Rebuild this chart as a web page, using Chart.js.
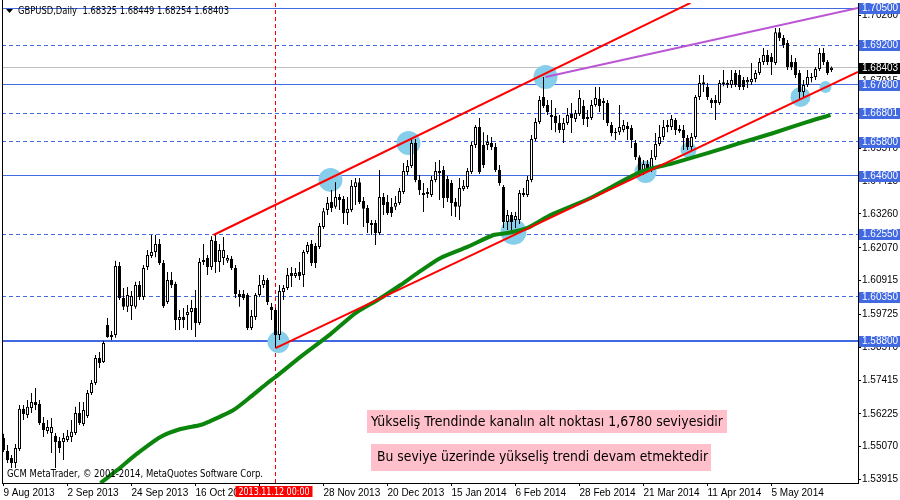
<!DOCTYPE html>
<html>
<head>
<meta charset="utf-8">
<style>
html, body { margin: 0; padding: 0; background: #fff; overflow: hidden; }
#chart { display: block; }
</style>
<script src="https://cdn.jsdelivr.net/npm/chart.js@4.4.1/dist/chart.umd.min.js"></script>
</head>
<body>
<canvas id="chart" width="900" height="500"></canvas>
<script>
// GBPUSD daily candles, 9 Aug 2013 .. mid May 2014
const opens = [
  1.5537,1.5492,1.5467,1.5449,1.5499,1.5640,1.5618,1.5643,1.5664,1.5657,
  1.5590,1.5562,1.5555,1.5545,1.5527,1.5523,1.5530,1.5541,1.5555,1.5625,
  1.5587,1.5615,1.5696,1.5731,1.5819,1.5805,1.5935,1.5900,1.5900,1.6143,
  1.6030,1.5999,1.6002,1.5999,1.6076,1.6034,1.6139,1.6178,1.6192,1.6220,
  1.6153,1.6016,1.6094,1.6080,1.5953,1.5963,1.5970,1.5981,1.5995,1.5942,
  1.6157,1.6171,1.6139,1.6231,1.6157,1.6171,1.6161,1.6168,1.6136,1.6044,
  1.6044,1.6041,1.5925,1.5963,1.6041,1.6076,1.6094,1.5999,1.5988,1.5900,
  1.6051,1.6065,1.6118,1.6108,1.6122,1.6111,1.6192,1.6220,1.6213,1.6210,
  1.6280,1.6340,1.6368,1.6351,1.6386,1.6379,1.6329,1.6340,1.6421,1.6438,
  1.6372,1.6347,1.6294,1.6294,1.6259,1.6386,1.6368,1.6351,1.6351,1.6365,
  1.6403,1.6474,1.6495,1.6576,1.6446,1.6393,1.6396,1.6393,1.6446,1.6470,
  1.6481,1.6449,1.6435,1.6368,1.6351,1.6414,1.6421,1.6474,1.6569,1.6632,
  1.6569,1.6569,1.6576,1.6562,1.6481,1.6421,1.6298,1.6322,1.6305,1.6305,
  1.6393,1.6393,1.6446,1.6590,1.6650,1.6738,1.6710,1.6667,1.6671,1.6646,
  1.6622,1.6646,1.6678,1.6660,1.6678,1.6706,1.6660,1.6664,1.6710,1.6731,
  1.6724,1.6717,1.6639,1.6611,1.6614,1.6622,1.6636,1.6629,1.6576,1.6526,
  1.6474,1.6502,1.6481,1.6526,1.6572,1.6597,1.6639,1.6632,1.6657,1.6625,
  1.6622,1.6593,1.6562,1.6597,1.6738,1.6783,1.6773,1.6727,1.6727,1.6717,
  1.6783,1.6780,1.6780,1.6822,1.6815,1.6798,1.6790,1.6790,1.6801,1.6822,
  1.6861,1.6886,1.6879,1.6857,1.6966,1.6945,1.6928,1.6861,1.6861,1.6822,
  1.6755,1.6780,1.6808,1.6808,1.6836,1.6893,1.6861,1.68325
];
const highs = [
  1.5552,1.5513,1.5478,1.5516,1.5654,1.5654,1.5671,1.5696,1.5713,1.5671,
  1.5611,1.5601,1.5608,1.5555,1.5541,1.5555,1.5566,1.5601,1.5647,1.5664,
  1.5664,1.5706,1.5742,1.5830,1.5840,1.5879,1.5960,1.5914,1.6161,1.6157,
  1.6065,1.6069,1.6055,1.6087,1.6090,1.6146,1.6199,1.6252,1.6252,1.6238,
  1.6164,1.6122,1.6122,1.6087,1.5988,1.5995,1.6006,1.6023,1.6058,1.6171,
  1.6220,1.6182,1.6248,1.6252,1.6220,1.6245,1.6182,1.6178,1.6146,1.6058,
  1.6058,1.6048,1.5988,1.6048,1.6111,1.6111,1.6101,1.6013,1.5995,1.6076,
  1.6076,1.6136,1.6139,1.6136,1.6157,1.6199,1.6227,1.6234,1.6224,1.6294,
  1.6347,1.6386,1.6410,1.6438,1.6396,1.6389,1.6386,1.6446,1.6453,1.6453,
  1.6386,1.6358,1.6305,1.6305,1.6481,1.6400,1.6393,1.6382,1.6389,1.6417,
  1.6505,1.6516,1.6593,1.6590,1.6463,1.6435,1.6417,1.6460,1.6509,1.6516,
  1.6495,1.6460,1.6446,1.6382,1.6453,1.6446,1.6488,1.6579,1.6639,1.6664,
  1.6614,1.6604,1.6597,1.6576,1.6498,1.6428,1.6340,1.6333,1.6333,1.6410,
  1.6417,1.6460,1.6604,1.6664,1.6741,1.6808,1.6727,1.6727,1.6699,1.6674,
  1.6664,1.6699,1.6717,1.6692,1.6762,1.6727,1.6692,1.6727,1.6773,1.6773,
  1.6734,1.6727,1.6650,1.6629,1.6710,1.6657,1.6650,1.6639,1.6586,1.6533,
  1.6516,1.6516,1.6551,1.6611,1.6639,1.6657,1.6657,1.6674,1.6664,1.6639,
  1.6639,1.6604,1.6611,1.6745,1.6815,1.6815,1.6787,1.6734,1.6745,1.6798,
  1.6833,1.6798,1.6833,1.6833,1.6833,1.6808,1.6808,1.6857,1.6833,1.6875,
  1.6910,1.6903,1.6893,1.6981,1.6981,1.6956,1.6938,1.6886,1.6875,1.6833,
  1.6798,1.6833,1.6822,1.6843,1.6910,1.6910,1.6868,1.68449
];
const lows = [
  1.5488,1.5449,1.5432,1.5432,1.5492,1.5601,1.5608,1.5625,1.5636,1.5583,
  1.5541,1.5552,1.5485,1.5432,1.5485,1.5460,1.5523,1.5523,1.5548,1.5583,
  1.5580,1.5608,1.5689,1.5724,1.5784,1.5801,1.5890,1.5882,1.5890,1.6023,
  1.5988,1.5981,1.5953,1.5992,1.6023,1.6023,1.6129,1.6171,1.6174,1.6146,
  1.5995,1.6009,1.6065,1.5918,1.5918,1.5925,1.5918,1.5918,1.5893,1.5935,
  1.6146,1.6111,1.6129,1.6118,1.6122,1.6146,1.6153,1.6129,1.6030,1.5999,
  1.6023,1.5918,1.5918,1.5953,1.6034,1.6065,1.6006,1.5953,1.5854,1.5882,
  1.6023,1.6058,1.6069,1.6101,1.6094,1.6069,1.6185,1.6143,1.6136,1.6203,
  1.6273,1.6322,1.6333,1.6344,1.6340,1.6291,1.6287,1.6333,1.6358,1.6361,
  1.6280,1.6259,1.6252,1.6217,1.6252,1.6322,1.6322,1.6315,1.6340,1.6358,
  1.6396,1.6463,1.6488,1.6438,1.6393,1.6333,1.6382,1.6386,1.6438,1.6375,
  1.6347,1.6368,1.6319,1.6315,1.6305,1.6407,1.6414,1.6467,1.6558,1.6467,
  1.6488,1.6551,1.6551,1.6474,1.6425,1.6277,1.6270,1.6263,1.6277,1.6291,
  1.6386,1.6386,1.6438,1.6583,1.6643,1.6699,1.6674,1.6622,1.6614,1.6611,
  1.6576,1.6639,1.6611,1.6650,1.6671,1.6639,1.6632,1.6657,1.6703,1.6685,
  1.6657,1.6636,1.6600,1.6586,1.6604,1.6614,1.6586,1.6558,1.6516,1.6463,
  1.6463,1.6474,1.6474,1.6516,1.6565,1.6586,1.6614,1.6622,1.6604,1.6611,
  1.6551,1.6551,1.6551,1.6590,1.6727,1.6755,1.6727,1.6699,1.6657,1.6710,
  1.6776,1.6769,1.6769,1.6773,1.6762,1.6762,1.6769,1.6780,1.6790,1.6815,
  1.6850,1.6850,1.6815,1.6850,1.6935,1.6910,1.6833,1.6833,1.6805,1.6727,
  1.6738,1.6773,1.6790,1.6798,1.6829,1.6850,1.6815,1.68254
];
const closes = [
  1.5495,1.5460,1.5449,1.5502,1.5640,1.5622,1.5647,1.5664,1.5654,1.5590,
  1.5566,1.5576,1.5576,1.5523,1.5502,1.5537,1.5545,1.5559,1.5625,1.5590,
  1.5636,1.5696,1.5731,1.5819,1.5801,1.5872,1.5893,1.5893,1.6143,1.6030,
  1.5999,1.6041,1.6037,1.6076,1.6034,1.6136,1.6182,1.6192,1.6220,1.6153,
  1.6002,1.6094,1.6076,1.5953,1.5963,1.5953,1.5981,1.5995,1.5942,1.6157,
  1.6164,1.6139,1.6234,1.6157,1.6199,1.6199,1.6171,1.6136,1.6044,1.6034,
  1.6030,1.5925,1.5967,1.6041,1.6076,1.6094,1.6016,1.5988,1.5900,1.6055,
  1.6065,1.6111,1.6108,1.6118,1.6108,1.6192,1.6217,1.6153,1.6153,1.6284,
  1.6336,1.6365,1.6347,1.6386,1.6375,1.6329,1.6344,1.6425,1.6438,1.6368,
  1.6344,1.6294,1.6287,1.6259,1.6386,1.6358,1.6329,1.6329,1.6365,1.6407,
  1.6477,1.6495,1.6576,1.6446,1.6410,1.6400,1.6403,1.6446,1.6477,1.6477,
  1.6382,1.6382,1.6365,1.6351,1.6417,1.6425,1.6477,1.6569,1.6632,1.6474,
  1.6498,1.6579,1.6562,1.6481,1.6435,1.6298,1.6322,1.6298,1.6319,1.6400,
  1.6400,1.6446,1.6590,1.6650,1.6727,1.6706,1.6685,1.6674,1.6646,1.6622,
  1.6646,1.6674,1.6664,1.6681,1.6734,1.6660,1.6667,1.6710,1.6734,1.6706,
  1.6717,1.6646,1.6611,1.6614,1.6632,1.6639,1.6625,1.6586,1.6526,1.6474,
  1.6502,1.6484,1.6523,1.6572,1.6597,1.6632,1.6632,1.6660,1.6622,1.6618,
  1.6593,1.6562,1.6597,1.6738,1.6787,1.6790,1.6738,1.6717,1.6717,1.6787,
  1.6790,1.6787,1.6798,1.6780,1.6773,1.6773,1.6798,1.6801,1.6822,1.6861,
  1.6886,1.6861,1.6861,1.6966,1.6945,1.6921,1.6843,1.6843,1.6815,1.6755,
  1.6780,1.6808,1.6805,1.6836,1.6893,1.6861,1.6822,1.68403
];

// time axis: one label every 16 bars
const xTickIdx = [0, 16, 32, 48, 64, 80, 96, 112, 128, 144, 160, 176, 192];
const xTickLabels = ['9 Aug 2013', '2 Sep 2013', '24 Sep 2013', '16 Oct 2013', '7 Nov 2013',
  '28 Nov 2013', '20 Dec 2013', '15 Jan 2014', '6 Feb 2014', '28 Feb 2014',
  '21 Mar 2014', '11 Apr 2014', '5 May 2014'];

// price axis
const yTicks = [1.70260, 1.69105, 1.67915, 1.66760, 1.65570, 1.64415, 1.63260, 1.62070,
  1.60915, 1.59725, 1.58570, 1.57415, 1.56225, 1.55070, 1.53915];
const yMin = 1.53790, yMax = 1.70686;

// horizontal levels
const levelVals = [1.70500, 1.69200, 1.67800, 1.66801, 1.65800, 1.64600, 1.62550, 1.60350, 1.58800];
const levelDashed = [false, true, false, true, true, false, true, true, false];
const lastPrice = 1.68403;
const header = 'GBPUSD,Daily  1.68325 1.68449 1.68254 1.68403';

// moving average (green)
const maIdx = [24.25, 28.5, 33, 39.25, 44.25, 49.25, 51.25, 57.5, 61.75, 66, 68, 74.25, 81.75,
  88, 93.5, 99.25, 103.5, 109.25, 116, 122.5, 126, 131, 136.75, 146.75, 159.25, 167.5, 176,
  184.25, 192.5, 201, 206.75];
const maVals = [1.5379, 1.5425, 1.5478, 1.5541, 1.5569, 1.5583, 1.5594, 1.5636, 1.5682, 1.5731,
  1.5752, 1.5823, 1.5903, 1.5977, 1.6023, 1.6076, 1.6118, 1.6171, 1.6210, 1.6252, 1.6259,
  1.6277, 1.6322, 1.6382, 1.6474, 1.6505, 1.6540, 1.6576, 1.6611, 1.6650, 1.6674];

// trend lines
const upperIdx = [52.5, 171.75], upperVals = [1.6252, 1.7069];
const lowerIdx = [68, 213.625], lowerVals = [1.5854, 1.6826];
const topIdx = [135.5, 213.625], topVals = [1.6808, 1.7051];

// touch points
const touchIdx = [68.75, 81.75, 101.25, 127.5, 135.5, 160.5, 171.25, 199.25, 205.5];
const touchVals = [1.5875, 1.6446, 1.6576, 1.6263, 1.6808, 1.6474, 1.6551, 1.6738, 1.6773];

const crossIdx = 68;
const crossLabel = '2013.11.12 00:00';
const note1 = 'Yükseliş Trendinde kanalın alt noktası 1,6780 seviyesidir';
const note2 = 'Bu seviye üzerinde yükseliş trendi devam etmektedir';
const copyright = 'GCM MetaTrader, \u00a9 2001-2014, MetaQuotes Software Corp.';

const BLUE = '#4169e1';
const TEXT_FONT = 'DejaVu Sans';

function fitText(ctx, s, x, y, w, font) {
    ctx.font = font;
    const m = ctx.measureText(s).width;
    ctx.save();
    ctx.translate(x, y);
    ctx.scale(w / m, 1);
    ctx.fillText(s, 0, 0);
    ctx.restore();
}

// chart area is fixed: x 2..858, y 3..483
const fixArea = {
    id: 'fixArea',
    afterLayout(chart) {
        const a = chart.chartArea;
        a.left = 2; a.right = 858; a.top = 3; a.bottom = 483;
        a.width = 856; a.height = 480;
        const sx = chart.scales.x, sy = chart.scales.y;
        sx.left = 2; sx.right = 858; sx.top = 483; sx.bottom = 500;
        sx.width = 856; sx.height = 17;
        sy.left = 858; sy.right = 900; sy.top = 3; sy.bottom = 483;
        sy.width = 42; sy.height = 480;
        sx.configure();
        sy.configure();
    }
};

const overlay = {
    id: 'overlay',
    beforeDatasetsDraw(chart) {
        const { ctx, chartArea: a, scales } = chart;
        ctx.save();
        // level lines
        levelVals.forEach((v, k) => {
            const yp = scales.y.getPixelForValue(v);
            const thick = k === levelVals.length - 1;
            const y = thick ? Math.round(yp) : Math.floor(yp) + 0.5;
            ctx.beginPath();
            ctx.strokeStyle = BLUE;
            ctx.lineWidth = thick ? 2 : 1;
            ctx.setLineDash(levelDashed[k] ? [4, 3] : []);
            ctx.moveTo(a.left, y);
            ctx.lineTo(a.right, y);
            ctx.stroke();
        });
        // last price
        const yl = Math.floor(scales.y.getPixelForValue(lastPrice)) + 0.5;
        ctx.setLineDash([]);
        ctx.strokeStyle = '#c0c0c0';
        ctx.lineWidth = 1;
        ctx.beginPath();
        ctx.moveTo(a.left, yl);
        ctx.lineTo(a.right, yl);
        ctx.stroke();
        // crosshair / period separator
        const xc = Math.floor(scales.x.getPixelForValue(crossIdx)) + 0.5;
        ctx.strokeStyle = '#ff0000';
        ctx.setLineDash([4, 3]);
        ctx.beginPath();
        ctx.moveTo(xc, a.top);
        ctx.lineTo(xc, a.bottom);
        ctx.stroke();
        ctx.restore();
    },
    afterDraw(chart) {
        const { ctx, chartArea: a, scales } = chart;
        ctx.save();
        ctx.textBaseline = 'middle';
        // left frame
        ctx.fillStyle = '#000';
        ctx.fillRect(a.left, 0, 1, a.bottom);
        // header
        ctx.beginPath();
        ctx.moveTo(6, 9); ctx.lineTo(13, 9); ctx.lineTo(9.5, 13);
        ctx.closePath();
        ctx.fill();
        fitText(ctx, header, 18, 11, 211, '11px ' + TEXT_FONT);
        // copyright
        fitText(ctx, copyright, 7, 474, 256, '11px ' + TEXT_FONT);
        // notes
        ctx.fillStyle = '#ffc0cb';
        ctx.fillRect(367, 410, 360, 23);
        ctx.fillRect(371, 444, 340, 27);
        ctx.fillStyle = '#000';
        fitText(ctx, note1, 371, 422, 352, '14px ' + TEXT_FONT);
        fitText(ctx, note2, 377, 457.5, 331, '14px ' + TEXT_FONT);
        // price boxes on the axis
        const boxes = levelVals.map(v => [v, BLUE]).concat([[lastPrice, '#000']]);
        boxes.forEach(([v, col]) => {
            const y = Math.round(scales.y.getPixelForValue(v));
            ctx.fillStyle = col;
            ctx.fillRect(a.right + 1, y - 5, 900 - a.right - 1, 11);
            ctx.fillStyle = '#fff';
            ctx.font = '10px Liberation Sans';
            ctx.fillText(v.toFixed(5), a.right + 4, y + 0.5);
        });
        // crosshair date box
        const xc = scales.x.getPixelForValue(crossIdx);
        ctx.fillStyle = '#ff0000';
        ctx.fillRect(xc - 40, a.bottom + 3, 77, 11);
        ctx.fillStyle = '#fff';
        fitText(ctx, crossLabel, xc - 37, a.bottom + 9, 71, '11px ' + TEXT_FONT);
        ctx.restore();
    }
};

const idx = opens.map((_, i) => i);
const pts = (xs, ys) => xs.map((x, k) => ({ x: x, y: ys[k] }));

new Chart(document.getElementById('chart'), {
    type: 'bar',
    data: {
        datasets: [
            {
                type: 'scatter',
                data: pts(touchIdx, touchVals),
                pointRadius: [11, 12, 12, 13, 12, 11, 8, 10, 6],
                pointBackgroundColor: '#87ceeb',
                pointBorderWidth: 0,
                order: 9
            },
            {
                type: 'bar',
                data: idx.map(i => ({ x: i, y: [lows[i], highs[i]] })),
                backgroundColor: '#000',
                borderWidth: 0,
                barThickness: 1,
                inflateAmount: 0,
                grouped: false,
                order: 8
            },
            {
                type: 'bar',
                data: idx.map(i => ({ x: i, y: [opens[i], closes[i]] })),
                backgroundColor: idx.map(i => closes[i] >= opens[i] ? '#fff' : '#000'),
                borderColor: '#000',
                borderWidth: 1,
                borderSkipped: false,
                barThickness: 3,
                minBarLength: 1,
                inflateAmount: 0,
                grouped: false,
                order: 7
            },
            {
                type: 'line',
                data: pts(maIdx, maVals),
                borderColor: '#0b850b',
                borderWidth: 4,
                pointRadius: 0,
                tension: 0.2,
                clip: 0,
                order: 3
            },
            {
                type: 'line',
                data: pts(upperIdx, upperVals),
                borderColor: '#ff0000',
                borderWidth: 2,
                pointRadius: 0,
                clip: 0,
                order: 2
            },
            {
                type: 'line',
                data: pts(lowerIdx, lowerVals),
                borderColor: '#ff0000',
                borderWidth: 2,
                pointRadius: 0,
                clip: 0,
                order: 2
            },
            {
                type: 'line',
                data: pts(topIdx, topVals),
                borderColor: '#ba55d3',
                borderWidth: 2,
                pointRadius: 0,
                clip: 0,
                order: 1
            }
        ]
    },
    options: {
        responsive: false,
        animation: false,
        devicePixelRatio: 1,
        events: [],
        layout: { padding: { left: 2, top: 3, right: 0, bottom: 0 } },
        plugins: { legend: { display: false }, tooltip: { enabled: false } },
        scales: {
            x: {
                type: 'linear',
                position: 'bottom',
                offset: false,
                min: -0.375,
                max: 213.625,
                afterBuildTicks: s => { s.ticks = xTickIdx.map(v => ({ value: v })); },
                grid: { offset: false, drawOnChartArea: false, drawTicks: true, tickLength: 3, color: '#000' },
                border: { display: true, color: '#000' },
                ticks: {
                    autoSkip: false,
                    maxRotation: 0,
                    align: 'start',
                    padding: 1,
                    color: '#000',
                    font: { family: 'Liberation Sans', size: 10 },
                    callback: (v, k) => xTickLabels[k]
                }
            },
            y: {
                type: 'linear',
                position: 'right',
                min: yMin,
                max: yMax,
                afterBuildTicks: s => { s.ticks = yTicks.map(v => ({ value: v })); },
                grid: { drawOnChartArea: false, drawTicks: true, tickLength: 3, color: '#000' },
                border: { display: true, color: '#000' },
                ticks: {
                    autoSkip: false,
                    padding: 1,
                    color: '#000',
                    font: { family: 'Liberation Sans', size: 10 },
                    callback: v => v.toFixed(5)
                }
            }
        }
    },
    plugins: [fixArea, overlay]
});
</script>
</body>
</html>
